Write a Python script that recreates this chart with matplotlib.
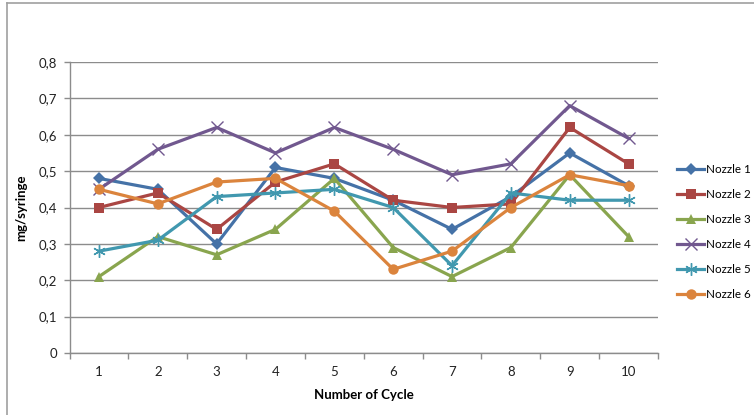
import matplotlib
matplotlib.use("Agg")
import matplotlib.pyplot as plt
from matplotlib.lines import Line2D
from matplotlib.ticker import FuncFormatter, FixedLocator

plt.rcParams['font.family'] = ['Lato', 'DejaVu Sans']

cycles = [1, 2, 3, 4, 5, 6, 7, 8, 9, 10]
series_names = ["Nozzle 1", "Nozzle 2", "Nozzle 3", "Nozzle 4", "Nozzle 5", "Nozzle 6"]
nozzle1 = [0.48, 0.45, 0.30, 0.51, 0.48, 0.42, 0.34, 0.43, 0.55, 0.46]
nozzle2 = [0.40, 0.44, 0.34, 0.47, 0.52, 0.42, 0.40, 0.41, 0.62, 0.52]
nozzle3 = [0.21, 0.32, 0.27, 0.34, 0.48, 0.29, 0.21, 0.29, 0.49, 0.32]
nozzle4 = [0.45, 0.56, 0.62, 0.55, 0.62, 0.56, 0.49, 0.52, 0.68, 0.59]
nozzle5 = [0.28, 0.31, 0.43, 0.44, 0.45, 0.40, 0.24, 0.44, 0.42, 0.42]
nozzle6 = [0.45, 0.41, 0.47, 0.48, 0.39, 0.23, 0.28, 0.40, 0.49, 0.46]
y_ticks = [0, 0.1, 0.2, 0.3, 0.4, 0.5, 0.6, 0.7, 0.8]

values = [nozzle1, nozzle2, nozzle3, nozzle4, nozzle5, nozzle6]
colors = ["#4572A7", "#AA4643", "#89A54E", "#71588F", "#4198AF", "#DB843D"]
markers = ["D", "s", "^", "x", (6, 2, 0), "o"]
msizes = [6, 7, 7.5, 8, 9, 7.5]

fig = plt.figure(figsize=(7.54, 4.15), dpi=100)
ax = fig.add_axes([69.5 / 754, 1 - 353 / 415, (658 - 69.5) / 754, (353 - 62) / 415])

for name, vals, c, m, ms in zip(series_names, values, colors, markers, msizes):
    if m in ("x", (6, 2, 0)):
        kw = dict(markeredgewidth=1.0)
    else:
        kw = dict(markeredgewidth=0)
    ax.plot(cycles, vals, color=c, lw=2.3, marker=m, markersize=ms,
            markerfacecolor=c, markeredgecolor=c, label=name, zorder=3, **kw)

ax.set_xlim(0.5, 10.5)
ax.set_ylim(0, 0.8)
ax.set_yticks(y_ticks)
ax.yaxis.set_major_formatter(FuncFormatter(lambda v, p: ("%g" % round(v, 1)).replace(".", ",")))
ax.yaxis.grid(True, color="#8c8c8c", lw=1.0)
ax.set_axisbelow(True)

ax.xaxis.set_major_locator(FixedLocator([c - 0.5 for c in cycles] + [cycles[-1] + 0.5]))
ax.xaxis.set_major_formatter(FuncFormatter(lambda v, p: ""))
ax.xaxis.set_minor_locator(FixedLocator(cycles))
ax.set_xticklabels([str(c) for c in cycles], minor=True)
ax.tick_params(axis="x", which="minor", length=0, pad=9, labelsize=9.5, labelcolor="#222222")
ax.tick_params(axis="x", which="major", length=4, width=1, color="#8c8c8c")
ax.tick_params(axis="y", length=4, width=1, color="#8c8c8c", labelsize=9.5, labelcolor="#222222", pad=5)

for s in ["top", "right"]:
    ax.spines[s].set_visible(False)
for s in ["left", "bottom"]:
    ax.spines[s].set_color("#8c8c8c")
    ax.spines[s].set_linewidth(1.0)

ax.set_xlabel("Number of Cycle", fontsize=9.5, fontweight="bold", labelpad=8)
ax.set_ylabel("mg/syringe", fontsize=9.5, fontweight="bold", labelpad=8)

leg = fig.legend(loc="upper left", bbox_to_anchor=(672.5 / 754, 1 - 159.5 / 415),
                 frameon=False, fontsize=8.4, handlelength=2.3, handletextpad=0.15,
                 labelspacing=1.2, borderaxespad=0)

# chart area border (left and top)
fig.add_artist(Line2D([7 / 754, 7 / 754], [0, 1 - 3 / 415], color="#a0a0a0", lw=1.2))
fig.add_artist(Line2D([7 / 754, 1], [1 - 3 / 415, 1 - 3 / 415], color="#a0a0a0", lw=1.2))

fig.savefig("out.png", dpi=100)
